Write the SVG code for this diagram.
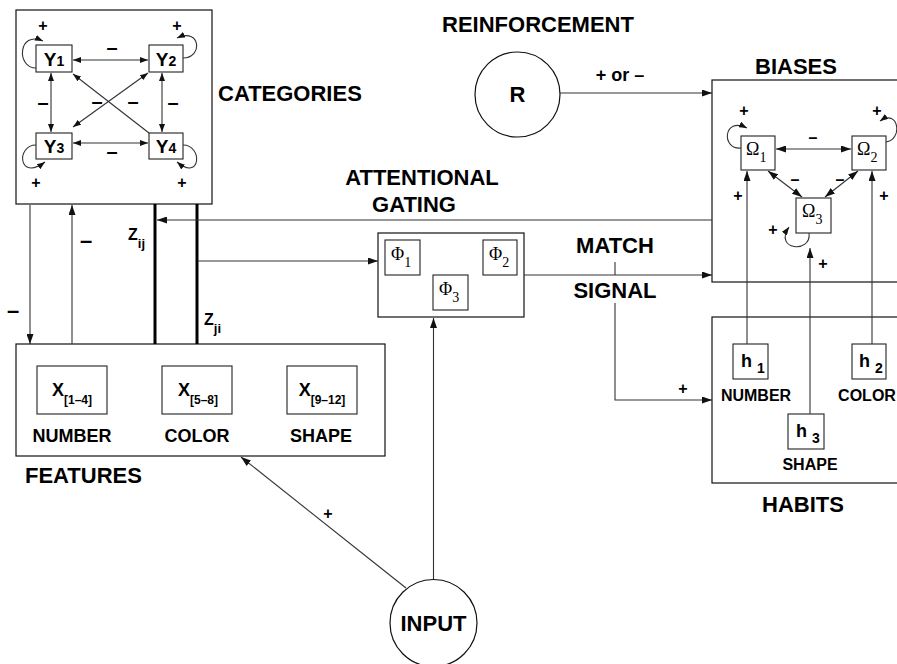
<svg xmlns="http://www.w3.org/2000/svg" width="897" height="664" viewBox="0 0 897 664">
<defs>
<marker id="a" viewBox="0 0 10 7" refX="10" refY="3.5" markerWidth="10" markerHeight="7" markerUnits="userSpaceOnUse" orient="auto-start-reverse"><path d="M0,0 L10,3.5 L0,7 z" fill="#111"/></marker>
<marker id="s" viewBox="0 0 8 6" refX="8" refY="3" markerWidth="8" markerHeight="6" markerUnits="userSpaceOnUse" orient="auto-start-reverse"><path d="M0,0 L8,3 L0,6 z" fill="#111"/></marker>
</defs>
<style>
.box{fill:#fff;stroke:#111;stroke-width:1.2}
.sb{fill:#fff;stroke:#222;stroke-width:1.1}
.c{fill:none;stroke:#333;stroke-width:1.1}
.th{fill:none;stroke:#000;stroke-width:3}
.t{font-family:"Liberation Sans",Arial,sans-serif;font-weight:bold;fill:#000}
.L{font-size:22px}
.M{font-size:18px}
.S{font-size:16px}
.g{font-family:"Liberation Serif","Times New Roman",serif;font-size:18px;fill:#000}
.mid{text-anchor:middle}
</style>
<rect width="897" height="664" fill="#fff"/>

<g id="categories">
<rect class="box" x="16" y="10" width="196" height="194"/>
<rect class="sb" x="36" y="45" width="36" height="27"/>
<rect class="sb" x="149" y="45" width="34" height="27"/>
<rect class="sb" x="36" y="133" width="36" height="26"/>
<rect class="sb" x="149" y="133" width="34" height="26"/>
<text class="t mid" font-size="19" x="54" y="66">Y<tspan font-size="14">1</tspan></text>
<text class="t mid" font-size="19" x="166" y="66">Y<tspan font-size="14">2</tspan></text>
<text class="t mid" font-size="19" x="54" y="153">Y<tspan font-size="14">3</tspan></text>
<text class="t mid" font-size="19" x="166" y="153">Y<tspan font-size="14">4</tspan></text>
<g class="t S mid">
<text x="43" y="31">+</text><text x="177" y="31">+</text>
<text x="36" y="188">+</text><text x="182" y="188">+</text>
</g>
<g class="t mid" font-size="20">
<text x="112" y="54">–</text><text x="112" y="158">–</text>
<text x="43" y="109">–</text><text x="173" y="109">–</text>
<text x="97" y="108">–</text><text x="133" y="108">–</text>
</g>
<text class="t L" x="218" y="101">CATEGORIES</text>
</g>

<g id="features">
<rect class="box" x="16" y="344" width="369" height="112"/>
<rect class="sb" x="37" y="366" width="70" height="48"/>
<rect class="sb" x="162" y="366" width="70" height="48"/>
<rect class="sb" x="287" y="366" width="70" height="48"/>
<text class="t M mid" x="72" y="396">X<tspan font-size="12" dy="8">[1–4]</tspan></text>
<text class="t M mid" x="198" y="396">X<tspan font-size="12" dy="8">[5–8]</tspan></text>
<text class="t M mid" x="322" y="396">X<tspan font-size="12" dy="8">[9–12]</tspan></text>
<text class="t M mid" x="72" y="442">NUMBER</text>
<text class="t M mid" x="197" y="442">COLOR</text>
<text class="t M mid" x="321" y="442">SHAPE</text>
<text class="t L" x="25" y="483">FEATURES</text>
</g>

<g id="labels-left">
<text class="t L mid" x="86" y="248">–</text>
<text class="t L mid" x="13" y="318">–</text>
<text class="t S" x="128" y="240">Z<tspan font-size="13" dy="8">ij</tspan></text>
<text class="t S" x="204" y="325">Z<tspan font-size="13" dy="8">ji</tspan></text>
<text class="t L mid" x="422" y="185">ATTENTIONAL</text>
<text class="t L mid" x="414" y="212">GATING</text>
</g>

<g id="phi">
<rect class="box" x="378" y="233" width="146" height="84"/>
<rect class="sb" x="385" y="240" width="35" height="35"/>
<rect class="sb" x="483" y="240" width="34" height="35"/>
<rect class="sb" x="433" y="275" width="35" height="35"/>
<text class="g" x="391" y="260">Φ<tspan font-size="14" dy="7">1</tspan></text>
<text class="g" x="489" y="260">Φ<tspan font-size="14" dy="7">2</tspan></text>
<text class="g" x="439" y="295">Φ<tspan font-size="14" dy="7">3</tspan></text>
</g>

<g id="input">
<circle class="box" cx="433.5" cy="623" r="43.5"/>
<text class="t L mid" x="433.5" y="631">INPUT</text>
<text class="t S mid" x="328" y="519">+</text>
</g>

<g id="reinforcement">
<circle class="box" cx="517.5" cy="94.5" r="42.5"/>
<text class="t L mid" x="517.5" y="102">R</text>
<text class="t L mid" x="538" y="32">REINFORCEMENT</text>
<text class="t M mid" x="620" y="81">+ or –</text>
</g>

<g id="match">
<text class="t L mid" x="615" y="253">MATCH</text>
<text class="t L mid" x="615" y="298">SIGNAL</text>
<text class="t S mid" x="683" y="394">+</text>
</g>

<g id="biases">
<rect class="box" x="712" y="80" width="200" height="202"/>
<rect class="sb" x="741" y="136" width="34" height="34"/>
<rect class="sb" x="852" y="136" width="34" height="34"/>
<rect class="sb" x="796" y="198" width="35" height="35"/>
<text class="g" x="746" y="155">Ω<tspan font-size="14" dy="7">1</tspan></text>
<text class="g" x="857" y="155">Ω<tspan font-size="14" dy="7">2</tspan></text>
<text class="g" x="802" y="217">Ω<tspan font-size="14" dy="7">3</tspan></text>
<g class="t S mid">
<text x="813" y="143">–</text><text x="795" y="185">–</text><text x="840" y="185">–</text>
<text x="744" y="116">+</text><text x="877" y="116">+</text>
<text x="738" y="201">+</text><text x="884" y="201">+</text>
<text x="773" y="235">+</text><text x="823" y="269">+</text>
</g>
<text class="t L mid" x="796" y="74">BIASES</text>
</g>

<g id="habits">
<rect class="box" x="712" y="317" width="200" height="166"/>
<rect class="sb" x="733" y="344" width="35" height="35"/>
<rect class="sb" x="852" y="344" width="34" height="35"/>
<rect class="sb" x="788" y="414" width="36" height="35"/>
<text class="t M" x="741" y="367">h <tspan font-size="14" dy="6">1</tspan></text>
<text class="t M" x="859" y="367">h <tspan font-size="14" dy="6">2</tspan></text>
<text class="t M" x="796" y="437">h <tspan font-size="14" dy="6">3</tspan></text>
<text class="t S mid" x="756" y="401">NUMBER</text>
<text class="t S mid" x="867" y="401">COLOR</text>
<text class="t S mid" x="810" y="470">SHAPE</text>
<text class="t L mid" x="803" y="512">HABITS</text>
</g>

<g id="connectors">
<line class="c" x1="73" y1="60" x2="148" y2="60" marker-start="url(#s)" marker-end="url(#s)"/>
<line class="c" x1="73" y1="143" x2="148" y2="143" marker-start="url(#s)" marker-end="url(#s)"/>
<line class="c" x1="51" y1="73" x2="51" y2="132" marker-start="url(#s)" marker-end="url(#s)"/>
<line class="c" x1="162" y1="73" x2="162" y2="132" marker-start="url(#s)" marker-end="url(#s)"/>
<line class="c" x1="148" y1="73" x2="73" y2="127" marker-start="url(#s)" marker-end="url(#s)"/>
<line class="c" x1="149" y1="133" x2="73" y2="74" marker-end="url(#s)"/>
<path class="c" d="M36,68 C16,68 18,30 43,41" marker-end="url(#s)"/>
<path class="c" d="M183,58 C203,58 201,27 177,38" marker-end="url(#s)"/>
<path class="c" d="M36,145 C16,145 18,182 45,162" marker-end="url(#s)"/>
<path class="c" d="M183,145 C203,145 201,182 177,162" marker-end="url(#s)"/>
<line class="c" x1="30" y1="205" x2="30" y2="344" marker-end="url(#a)"/>
<line class="c" x1="72" y1="344" x2="72" y2="205" marker-end="url(#a)"/>
<line class="th" x1="155" y1="204" x2="155" y2="344"/>
<line class="th" x1="197" y1="204" x2="197" y2="344"/>
<line class="c" x1="712" y1="220" x2="157" y2="220" marker-end="url(#a)"/>
<line class="c" x1="198" y1="261" x2="378" y2="261" marker-end="url(#a)"/>
<line class="c" x1="406" y1="588" x2="241" y2="457" marker-end="url(#a)"/>
<line class="c" x1="433.5" y1="579" x2="433.5" y2="318" marker-end="url(#a)"/>
<line class="c" x1="560" y1="93" x2="712" y2="93" marker-end="url(#a)"/>
<line class="c" x1="524" y1="275" x2="712" y2="275" marker-end="url(#a)"/>
<line class="c" x1="615" y1="262" x2="615" y2="275"/>
<polyline class="c" points="615,303 615,400 712,400" marker-end="url(#a)"/>
<line class="c" x1="776" y1="149" x2="851" y2="149" marker-start="url(#a)" marker-end="url(#a)"/>
<line class="c" x1="768" y1="171" x2="802" y2="197" marker-start="url(#a)" marker-end="url(#a)"/>
<line class="c" x1="858" y1="171" x2="825" y2="197" marker-start="url(#a)" marker-end="url(#a)"/>
<path class="c" d="M741,148 C721,150 723,116 747,128" marker-end="url(#s)"/>
<path class="c" d="M886,142 C903,140 899,108 880,121" marker-end="url(#s)"/>
<path class="c" d="M809,233 C812,254 773,250 789,227" marker-end="url(#s)"/>
<line class="c" x1="747" y1="344" x2="747" y2="171" marker-end="url(#a)"/>
<line class="c" x1="872" y1="344" x2="872" y2="171" marker-end="url(#a)"/>
<line class="c" x1="810" y1="414" x2="810" y2="248" marker-end="url(#a)"/>
</g>
</svg>
